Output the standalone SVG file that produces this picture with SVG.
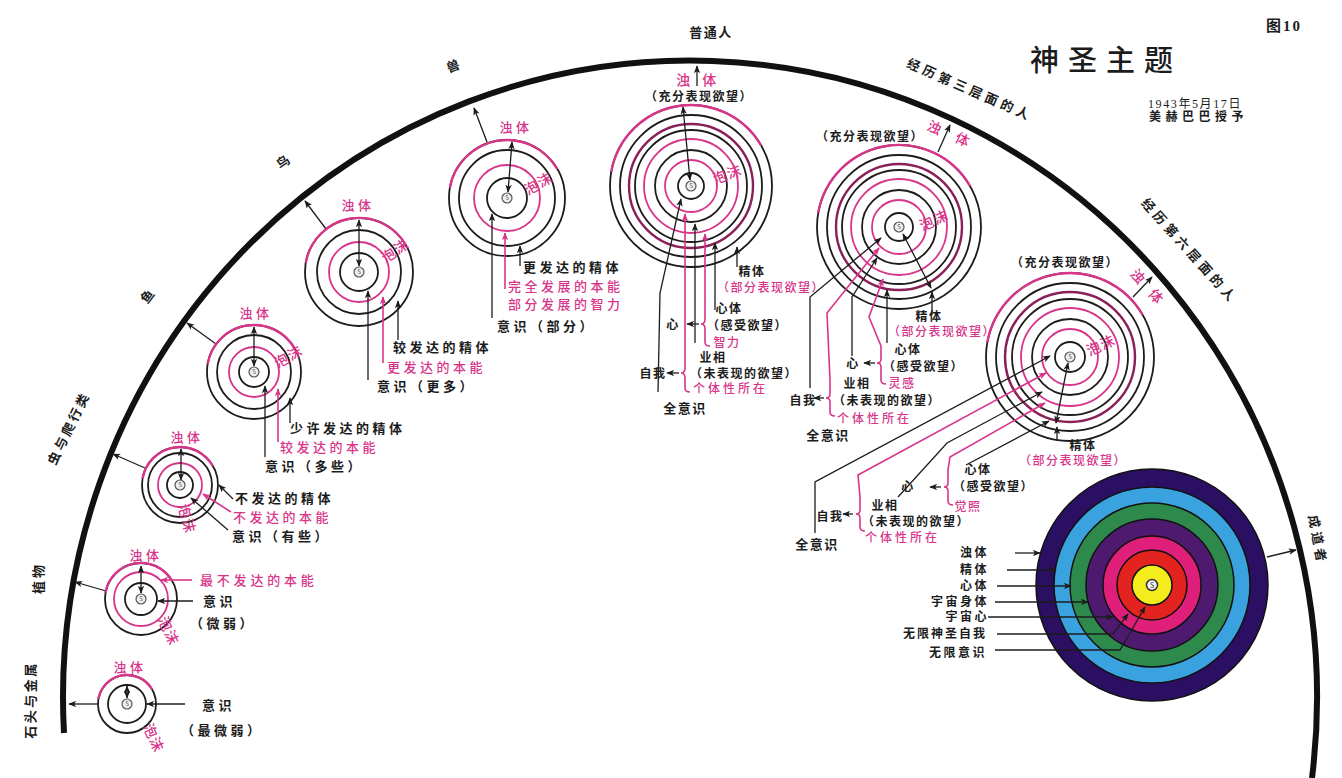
<svg xmlns="http://www.w3.org/2000/svg" width="1342" height="778" viewBox="0 0 1342 778">
<style>
text{font-family:"Noto Sans CJK SC","Noto Sans",sans-serif}
.k{fill:none;stroke:#1c1c1c;stroke-width:1.8}
.pk{fill:none;stroke:#d8358a;stroke-width:1.8}
.pa{fill:none;stroke:#d8358a;stroke-width:2.4}
.dk{fill:none;stroke:#8a2058;stroke-width:2.4}
.ln{fill:none;stroke:#1c1c1c;stroke-width:1.3}
.lp{fill:none;stroke:#d8358a;stroke-width:1.6}
.t{font-size:13px;font-weight:700;letter-spacing:3.5px;fill:#1c1c1c}
.tp{font-size:13px;font-weight:500;letter-spacing:3.5px;fill:#d8358a}
.s{font-size:12px;font-weight:700;letter-spacing:1.5px;fill:#1c1c1c}
.sp{font-size:12px;font-weight:500;letter-spacing:1.5px;fill:#d8358a}
.z{font-size:14px;font-weight:500;letter-spacing:1px;fill:#d8358a}
.a{font-size:13px;font-weight:700;letter-spacing:3px;fill:#1c1c1c}
.c{stroke:#111;stroke-width:1.5}
</style>
<defs>
<marker id="ak" viewBox="0 0 10 8" refX="9" refY="4" markerWidth="8" markerHeight="6.5" markerUnits="userSpaceOnUse" orient="auto-start-reverse"><path d="M0,0 L10,4 L0,8 L2.5,4 z" fill="#1c1c1c"/></marker>
<marker id="ap" viewBox="0 0 10 8" refX="9" refY="4" markerWidth="8" markerHeight="6.5" markerUnits="userSpaceOnUse" orient="auto-start-reverse"><path d="M0,0 L10,4 L0,8 L2.5,4 z" fill="#d8358a"/></marker>
<g id="s"><circle r="5" fill="#eeeeee" stroke="#555" stroke-width="1.2"/><text y="2.2" font-size="6" text-anchor="middle" fill="#555">S</text></g>
</defs>
<rect width="1342" height="778" fill="#ffffff"/>

<!-- big arc and arc labels -->
<path d="M64,733 A627,637 0 1 1 1312,778" fill="none" stroke="#111" stroke-width="6"/>
<text class="a" transform="translate(35,700) rotate(-90)" text-anchor="middle" style="letter-spacing:2.5px">石头与金属</text>
<text class="a" transform="translate(43,578) rotate(-90)" text-anchor="middle">植物</text>
<text class="a" transform="translate(73,430) rotate(-64)" text-anchor="middle">虫与爬行类</text>
<text class="a" transform="translate(152,298) rotate(-53)" text-anchor="middle">鱼</text>
<text class="a" transform="translate(287,165) rotate(-36)" text-anchor="middle">鸟</text>
<text class="a" transform="translate(456,70) rotate(-20)" text-anchor="middle">兽</text>
<text class="a" x="711" y="37" text-anchor="middle" style="letter-spacing:1.5px">普通人</text>
<text class="a" transform="translate(968,94) rotate(23.6)" text-anchor="middle" style="letter-spacing:4px">经历第三层面的人</text>
<text class="a" transform="translate(1186,254) rotate(48)" text-anchor="middle" style="letter-spacing:4px">经历第六层面的人</text>
<text class="a" transform="translate(1313,541) rotate(79)" text-anchor="middle" style="letter-spacing:4px">成道者</text>

<!-- title block -->
<text x="1030" y="71" font-size="29" font-weight="500" letter-spacing="9" fill="#1c1c1c">神圣主题</text>
<text x="1266" y="31" font-size="15" font-weight="700" letter-spacing="2" fill="#1c1c1c" style="font-family:'Liberation Serif','Noto Sans CJK SC',serif">图10</text>
<text x="1148" y="108" font-size="12" letter-spacing="1.6" fill="#1c1c1c" style="font-family:'Liberation Serif','Noto Sans CJK SC',serif">1943年5月17日</text>
<text x="1149" y="121" font-size="12" font-weight="700" letter-spacing="4.5" fill="#1c1c1c" style="font-family:'Liberation Serif','Noto Sans CJK SC',serif">美赫巴巴授予</text>

<!-- connectors to the arc -->
<g id="connectors" class="ln">
<line x1="98" y1="704" x2="69" y2="704" marker-end="url(#ak)"/>
<line x1="106" y1="591" x2="75" y2="582" marker-end="url(#ak)"/>
<line x1="145" y1="468" x2="113" y2="454" marker-end="url(#ak)"/>
<line x1="216" y1="344" x2="187" y2="323" marker-end="url(#ak)"/>
<line x1="326" y1="229" x2="305" y2="201" marker-end="url(#ak)"/>
<line x1="487" y1="142" x2="474" y2="108" marker-end="url(#ak)"/>
<line x1="697" y1="86" x2="697" y2="66" marker-end="url(#ak)"/>
<line x1="938" y1="152" x2="950" y2="125" marker-end="url(#ak)"/>
<line x1="1133" y1="297" x2="1152" y2="277" marker-end="url(#ak)"/>
<line x1="1267" y1="557" x2="1296" y2="550" marker-end="url(#ak)"/>
</g>

<!-- node 1 -->
<g id="n-stone">
<circle class="k" cx="127" cy="704" r="29"/>
<circle class="k" cx="127" cy="704" r="19"/>
<path class="pa" d="M98.4,699 A29,29 0 0 1 152.1,689.5"/>
<use href="#s" x="127" y="704"/>
<line class="ln" x1="127" y1="698" x2="127" y2="686" marker-start="url(#ak)" marker-end="url(#ak)"/>
<line class="ln" x1="185" y1="704" x2="147" y2="704" marker-end="url(#ak)"/>
<text class="tp" x="130" y="672" text-anchor="middle">浊体</text>
<text class="t" x="202" y="710">意识</text>
<text class="t" x="181" y="735">（最微弱）</text>
<text class="z" transform="translate(149,740) rotate(65)" text-anchor="middle">泡沫</text>
</g>

<!-- node 2 -->
<g id="n-plant">
<circle class="k" cx="141" cy="599" r="36"/>
<circle class="pk" cx="141" cy="599" r="27"/>
<circle class="k" cx="141" cy="599" r="16"/>
<path class="pa" d="M105.5,592.7 A36,36 0 0 1 172.2,581"/>
<use href="#s" x="141" y="599"/>
<line class="ln" x1="141" y1="593" x2="141" y2="566" marker-start="url(#ak)" marker-end="url(#ak)"/>
<line class="ln" x1="193" y1="601" x2="158" y2="601" marker-end="url(#ak)"/>
<line class="lp" x1="192" y1="580" x2="161" y2="580" marker-end="url(#ap)"/>
<text class="tp" x="146" y="560" text-anchor="middle">浊体</text>
<text class="tp" x="200" y="585" style="letter-spacing:3.8px">最不发达的本能</text>
<text class="t" x="203" y="606">意识</text>
<text class="t" x="190" y="628">（微弱）</text>
<text class="z" transform="translate(164,633) rotate(65)" text-anchor="middle">泡沫</text>
</g>

<!-- node 3 -->
<g id="n-insect">
<circle class="k" cx="180" cy="485" r="38"/>
<circle class="k" cx="180" cy="485" r="32"/>
<circle class="pk" cx="180" cy="485" r="22"/>
<circle class="k" cx="180" cy="485" r="13"/>
<path class="pa" d="M142.6,478.4 A38,38 0 0 1 212.9,466"/>
<use href="#s" x="180" y="485"/>
<line class="ln" x1="181" y1="480" x2="181" y2="449" marker-start="url(#ak)" marker-end="url(#ak)"/>
<line class="ln" x1="233" y1="499" x2="219" y2="485" marker-end="url(#ak)"/>
<line class="lp" x1="231" y1="512" x2="203" y2="494" marker-end="url(#ap)"/>
<line class="ln" x1="228" y1="530" x2="191" y2="498" marker-end="url(#ak)"/>
<text class="tp" x="187" y="442" text-anchor="middle">浊体</text>
<text class="t" x="235" y="503">不发达的精体</text>
<text class="tp" x="233" y="522">不发达的本能</text>
<text class="t" x="232" y="541">意识（有些）</text>
<text class="z" transform="translate(182,520) rotate(75)" text-anchor="middle">泡沫</text>
</g>

<!-- node 4 -->
<g id="n-fish">
<circle class="k" cx="254" cy="372" r="47"/>
<circle class="k" cx="254" cy="372" r="37"/>
<circle class="pk" cx="254" cy="372" r="25"/>
<circle class="k" cx="254" cy="372" r="15"/>
<path class="pa" d="M207.7,363.8 A47,47 0 0 1 294.7,348.5"/>
<use href="#s" x="254" y="372"/>
<line class="ln" x1="254" y1="366" x2="254" y2="327" marker-start="url(#ak)" marker-end="url(#ak)"/>
<line class="ln" x1="265" y1="457" x2="265" y2="386" marker-end="url(#ak)"/>
<line class="lp" x1="278" y1="442" x2="278" y2="389" marker-end="url(#ap)"/>
<line class="ln" x1="290" y1="423" x2="290" y2="398" marker-end="url(#ak)"/>
<text class="tp" x="256" y="318" text-anchor="middle">浊体</text>
<text class="t" x="290" y="433">少许发达的精体</text>
<text class="tp" x="280" y="452">较发达的本能</text>
<text class="t" x="265" y="471">意识（多些）</text>
<text class="z" transform="translate(291,361) rotate(-30)" text-anchor="middle">泡沫</text>
</g>

<!-- node 5 -->
<g id="n-bird">
<circle class="k" cx="359" cy="272" r="54"/>
<circle class="k" cx="359" cy="272" r="42"/>
<circle class="pk" cx="359" cy="272" r="30"/>
<circle class="k" cx="359" cy="272" r="19"/>
<path class="pa" d="M305.8,262.6 A54,54 0 0 1 405.8,245"/>
<use href="#s" x="359" y="272"/>
<line class="ln" x1="359" y1="266" x2="359" y2="220" marker-start="url(#ak)" marker-end="url(#ak)"/>
<line class="ln" x1="368" y1="380" x2="368" y2="291" marker-end="url(#ak)"/>
<line class="lp" x1="383" y1="363" x2="383" y2="297" marker-end="url(#ap)"/>
<line class="ln" x1="398" y1="340" x2="398" y2="301" marker-end="url(#ak)"/>
<text class="tp" x="358" y="210" text-anchor="middle">浊体</text>
<text class="t" x="393" y="352">较发达的精体</text>
<text class="tp" x="387" y="372">更发达的本能</text>
<text class="t" x="377" y="391">意识（更多）</text>
<text class="z" transform="translate(398,255) rotate(-35)" text-anchor="middle">泡沫</text>
</g>

<!-- node 6 -->
<g id="n-beast">
<circle class="k" cx="507" cy="198" r="58"/>
<circle class="k" cx="507" cy="198" r="48"/>
<circle class="pk" cx="507" cy="198" r="33"/>
<circle class="k" cx="507" cy="198" r="20"/>
<path class="pa" d="M449.9,187.9 A58,58 0 0 1 557.2,169"/>
<use href="#s" x="507" y="198"/>
<line class="ln" x1="508" y1="192" x2="512" y2="142" marker-start="url(#ak)" marker-end="url(#ak)"/>
<line class="ln" x1="492" y1="318" x2="492" y2="214" marker-end="url(#ak)"/>
<line class="lp" x1="505" y1="289" x2="505" y2="233" marker-end="url(#ap)"/>
<line class="ln" x1="520" y1="266" x2="520" y2="246" marker-end="url(#ak)"/>
<text class="tp" x="516" y="132" text-anchor="middle">浊体</text>
<text class="t" x="523" y="272">更发达的精体</text>
<text class="tp" x="508" y="291">完全发展的本能</text>
<text class="tp" x="508" y="309">部分发展的智力</text>
<text class="t" x="497" y="331">意识（部分）</text>
<text class="z" transform="translate(541,188) rotate(-30)" text-anchor="middle">泡沫</text>
</g>

<!-- node 7 -->
<g id="n-ordinary">
<circle class="k" cx="691" cy="186" r="81"/>
<circle class="k" cx="691" cy="186" r="71"/>
<circle class="dk" cx="691" cy="186" r="62"/>
<circle class="k" cx="691" cy="186" r="56"/>
<circle class="pk" cx="691" cy="186" r="47"/>
<circle class="k" cx="691" cy="186" r="36"/>
<circle class="pk" cx="691" cy="186" r="26"/>
<circle class="k" cx="691" cy="186" r="13"/>
<path class="pa" d="M611.2,171.9 A81,81 0 0 1 761.1,145.5"/>
<use href="#s" x="691" y="186"/>
<line class="ln" x1="690" y1="180" x2="683" y2="107" marker-start="url(#ak)" marker-end="url(#ak)"/>
<path class="ln" d="M658,392 L660,293 L681,199" marker-end="url(#ak)"/>
<path class="lp" d="M690,392 Q685,392 685,388 L685,378 Q685,373 681,373 Q685,373 685,368 L685,214" marker-end="url(#ap)"/>
<line class="ln" x1="695" y1="343" x2="695" y2="224" marker-end="url(#ak)"/>
<path class="lp" d="M710,346 Q705,346 705,342 L705,329 Q705,324 701,324 Q705,324 705,319 L705,234" marker-end="url(#ap)"/>
<line class="ln" x1="715" y1="310" x2="715" y2="243" marker-end="url(#ak)"/>
<line class="ln" x1="737" y1="267" x2="737" y2="247" marker-end="url(#ak)"/>
<line class="ln" x1="699" y1="324" x2="687" y2="324" marker-end="url(#ak)"/>
<line class="ln" x1="679" y1="373" x2="667" y2="373" marker-end="url(#ak)"/>
<text class="tp" x="685" y="85" text-anchor="middle" style="font-size:14px">浊</text>
<text class="tp" x="711" y="85" text-anchor="middle" style="font-size:14px">体</text>
<text class="s" x="699" y="101" text-anchor="middle">（充分表现欲望）</text>
<text class="z" transform="translate(729,179) rotate(-20)" text-anchor="middle">泡沫</text>
<text class="s" x="752" y="276" text-anchor="middle">精体</text>
<text class="sp" x="717" y="292">（部分表现欲望）</text>
<text class="s" x="729" y="313" text-anchor="middle">心体</text>
<text class="s" x="707" y="330">（感受欲望）</text>
<text class="sp" x="727" y="347" text-anchor="middle">智力</text>
<text class="s" x="673" y="329" text-anchor="middle">心</text>
<text class="s" x="713" y="362" text-anchor="middle">业相</text>
<text class="s" x="690" y="378">（未表现的欲望）</text>
<text class="sp" x="693" y="393" style="letter-spacing:3px">个体性所在</text>
<text class="s" x="653" y="378" text-anchor="middle">自我</text>
<text class="s" x="685" y="413" text-anchor="middle" style="font-size:13px">全意识</text>
</g>

<!-- node 8 -->
<g id="n-third">
<circle class="k" cx="899" cy="227" r="82"/>
<circle class="k" cx="899" cy="227" r="72"/>
<circle class="dk" cx="899" cy="227" r="63"/>
<circle class="k" cx="899" cy="227" r="57"/>
<circle class="pk" cx="899" cy="227" r="48"/>
<circle class="k" cx="899" cy="227" r="37"/>
<circle class="pk" cx="899" cy="227" r="27"/>
<circle class="k" cx="899" cy="227" r="14"/>
<path class="pa" d="M818.2,212.8 A82,82 0 0 1 970,186"/>
<use href="#s" x="899" y="227"/>
<path class="ln" d="M810,388 L810,297 L881,238" marker-end="url(#ak)"/>
<path class="lp" d="M835,416 Q830,416 830,412 L830,402 Q830,398 826,398 Q830,398 830,394 L830,380 L827,313 L879,248" marker-end="url(#ap)"/>
<path class="ln" d="M852,356 L852,297 L877,258" marker-end="url(#ak)"/>
<path class="lp" d="M886,384 Q881,384 881,380 L881,367 Q881,363 877,363 Q881,363 881,359 L881,346 L869,317 L883,279" marker-end="url(#ap)"/>
<line class="ln" x1="887" y1="343" x2="887" y2="290" marker-end="url(#ak)"/>
<line class="ln" x1="932" y1="315" x2="932" y2="292" marker-end="url(#ak)"/>
<line class="ln" x1="931" y1="288" x2="903" y2="234" marker-start="url(#ak)" marker-end="url(#ak)"/>
<line class="ln" x1="875" y1="363" x2="864" y2="363" marker-end="url(#ak)"/>
<line class="ln" x1="824" y1="398" x2="814" y2="398" marker-end="url(#ak)"/>
<text class="s" x="870" y="141" text-anchor="middle">（充分表现欲望）</text>
<text class="tp" transform="translate(934,133) rotate(25)" text-anchor="middle" style="font-size:14px">浊</text>
<text class="tp" transform="translate(962,145) rotate(25)" text-anchor="middle" style="font-size:14px">体</text>
<text class="z" transform="translate(936,225) rotate(-25)" text-anchor="middle">泡沫</text>
<text class="s" x="929" y="321" text-anchor="middle">精体</text>
<text class="sp" x="942" y="336" text-anchor="middle">（部分表现欲望）</text>
<text class="s" x="908" y="354" text-anchor="middle">心体</text>
<text class="s" x="883" y="371">（感受欲望）</text>
<text class="sp" x="902" y="388" text-anchor="middle">灵感</text>
<text class="s" x="853" y="368" text-anchor="middle">心</text>
<text class="s" x="857" y="388" text-anchor="middle">业相</text>
<text class="s" x="833" y="405">（未表现的欲望）</text>
<text class="sp" x="837" y="423" style="letter-spacing:3px">个体性所在</text>
<text class="s" x="803" y="405" text-anchor="middle">自我</text>
<text class="s" x="828" y="440" text-anchor="middle" style="font-size:13px">全意识</text>
</g>

<!-- node 9 -->
<g id="n-sixth">
<circle class="k" cx="1070" cy="357" r="84"/>
<circle class="k" cx="1070" cy="357" r="74"/>
<circle class="dk" cx="1070" cy="357" r="65"/>
<circle class="k" cx="1070" cy="357" r="58"/>
<circle class="pk" cx="1070" cy="357" r="49"/>
<circle class="k" cx="1070" cy="357" r="38"/>
<circle class="pk" cx="1070" cy="357" r="28"/>
<circle class="k" cx="1070" cy="357" r="15"/>
<path class="pa" d="M987.3,342.4 A84,84 0 0 1 1142.7,315"/>
<use href="#s" x="1070" y="357"/>
<path class="ln" d="M815,533 L815,482 L1050,356" marker-end="url(#ak)"/>
<path class="lp" d="M865,531 Q860,531 860,527 L860,518 Q860,514 856,514 Q860,514 860,510 L860,497 L858,475 L1046,373" marker-end="url(#ap)"/>
<path class="ln" d="M898,497 L947,443 L1042,392" marker-end="url(#ak)"/>
<path class="lp" d="M953,505 Q948,505 948,501 L948,491 Q948,487 944,487 Q948,487 948,483 L948,470 L950,457 L1045,403" marker-end="url(#ap)"/>
<line class="ln" x1="966" y1="465" x2="1049" y2="421" marker-end="url(#ak)"/>
<line class="ln" x1="1057" y1="441" x2="1057" y2="427" marker-end="url(#ak)"/>
<line class="ln" x1="1056" y1="423" x2="1068" y2="363" marker-start="url(#ak)" marker-end="url(#ak)"/>
<line class="ln" x1="941" y1="487" x2="930" y2="487" marker-end="url(#ak)"/>
<line class="ln" x1="853" y1="514" x2="843" y2="514" marker-end="url(#ak)"/>
<text class="s" x="1065" y="267" text-anchor="middle">（充分表现欲望）</text>
<text class="tp" transform="translate(1135,281) rotate(50)" text-anchor="middle" style="font-size:14px">浊</text>
<text class="tp" transform="translate(1153,301) rotate(50)" text-anchor="middle" style="font-size:14px">体</text>
<text class="z" transform="translate(1103,350) rotate(-25)" text-anchor="middle">泡沫</text>
<text class="s" x="1083" y="450" text-anchor="middle">精体</text>
<text class="sp" x="1073" y="465" text-anchor="middle">（部分表现欲望）</text>
<text class="s" x="978" y="474" text-anchor="middle">心体</text>
<text class="s" x="953" y="491">（感受欲望）</text>
<text class="sp" x="968" y="511" text-anchor="middle">觉照</text>
<text class="s" x="908" y="491" text-anchor="middle">心</text>
<text class="s" x="885" y="510" text-anchor="middle">业相</text>
<text class="s" x="862" y="526">（未表现的欲望）</text>
<text class="sp" x="865" y="542" style="letter-spacing:3px">个体性所在</text>
<text class="s" x="830" y="521" text-anchor="middle">自我</text>
<text class="s" x="817" y="549" text-anchor="middle" style="font-size:13px">全意识</text>
</g>

<!-- node 10 -->
<g id="n-perfect">
<circle class="c" cx="1152" cy="585" r="116" fill="#2a0f62"/>
<circle class="c" cx="1152" cy="585" r="98" fill="#3aa2de"/>
<circle class="c" cx="1152" cy="585" r="82" fill="#2e8a4c"/>
<circle class="c" cx="1152" cy="585" r="66" fill="#4e1a70"/>
<circle class="c" cx="1152" cy="585" r="49" fill="#df1f79"/>
<circle class="c" cx="1152" cy="585" r="35" fill="#e3231f"/>
<circle class="c" cx="1152" cy="585" r="20" fill="#f5ec1e"/>
<circle cx="1152" cy="585" r="5.5" fill="#f2f2f2" stroke="#333" stroke-width="1.5"/>
<text x="1152" y="587.5" font-size="7" text-anchor="middle" fill="#333">S</text>
<line class="ln" x1="1015" y1="553" x2="1040" y2="553" marker-end="url(#ak)"/>
<line class="ln" x1="1007" y1="570" x2="1056" y2="570" marker-end="url(#ak)"/>
<line class="ln" x1="997" y1="586" x2="1071" y2="586" marker-end="url(#ak)"/>
<line class="ln" x1="995" y1="602" x2="1088" y2="602" marker-end="url(#ak)"/>
<line class="ln" x1="988" y1="617" x2="1113" y2="617" marker-end="url(#ak)"/>
<path class="ln" d="M997,634 L1113,634 L1128,614" marker-end="url(#ak)"/>
<path class="ln" d="M995,650 L1120,650 L1145,607" marker-end="url(#ak)"/>
<text class="s" x="989" y="557" text-anchor="end" style="letter-spacing:2.5px">浊体</text>
<text class="s" x="989" y="574" text-anchor="end" style="letter-spacing:2.5px">精体</text>
<text class="s" x="989" y="590" text-anchor="end" style="letter-spacing:2.5px">心体</text>
<text class="s" x="989" y="606" text-anchor="end" style="letter-spacing:2.5px">宇宙身体</text>
<text class="s" x="989" y="621" text-anchor="end" style="letter-spacing:2.5px">宇宙心</text>
<text class="s" x="987" y="638" text-anchor="end" style="letter-spacing:2px">无限神圣自我</text>
<text class="s" x="987" y="657" text-anchor="end" style="letter-spacing:2.5px">无限意识</text>
</g>
</svg>
